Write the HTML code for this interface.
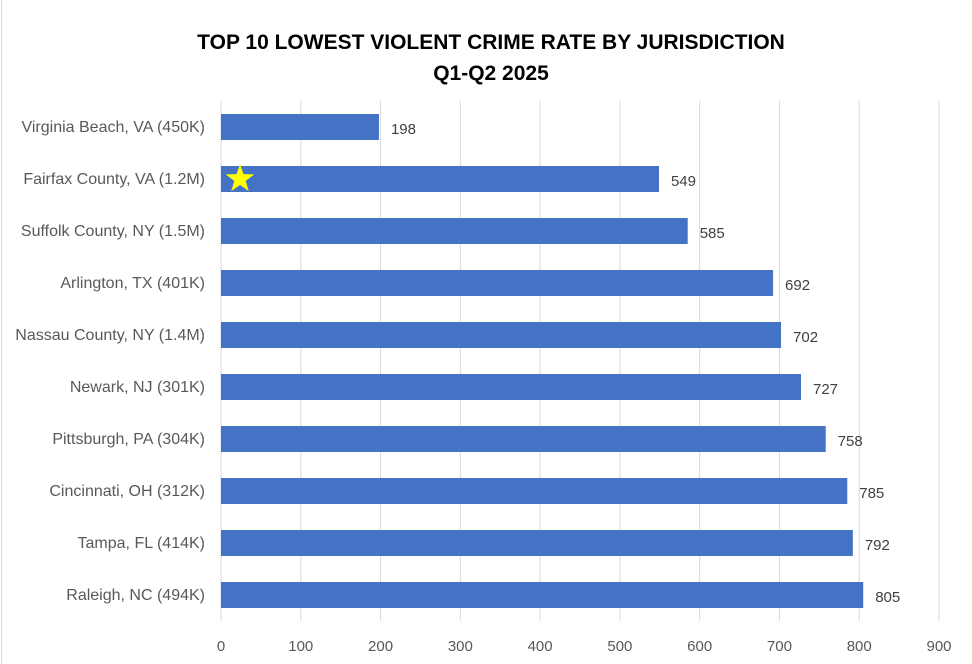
<!DOCTYPE html>
<html><head><meta charset="utf-8"><style>
html,body{margin:0;background:#fff;overflow:hidden;width:972px;height:664px}
svg{display:block;font-family:"Liberation Sans",sans-serif;overflow:hidden}
</style></head><body>
<svg id="chart" width="972" height="664">
<rect x="1.5" y="-2" width="980" height="680" fill="#fff" stroke="#d9d9d9"/>
<text x="491" y="49" text-anchor="middle" font-size="21" font-weight="bold" fill="#000">TOP 10 LOWEST VIOLENT CRIME RATE BY JURISDICTION</text>
<text x="491" y="80" text-anchor="middle" font-size="21" font-weight="bold" fill="#000">Q1-Q2 2025</text>
<g id="grid"></g><g id="bars"></g><g id="labels"></g>
</svg>
<script>
const categories=["Virginia Beach, VA (450K)","Fairfax County, VA (1.2M)","Suffolk County, NY (1.5M)","Arlington, TX (401K)","Nassau County, NY (1.4M)","Newark, NJ (301K)","Pittsburgh, PA (304K)","Cincinnati, OH (312K)","Tampa, FL (414K)","Raleigh, NC (494K)"];
const values=[198,549,585,692,702,727,758,785,792,805];
const ticks=[0,100,200,300,400,500,600,700,800,900];
const NS="http://www.w3.org/2000/svg";
const x0=221,x1=939,plotTop=101,rowH=52,barH=26;
const xs=v=>x0+v/900*(x1-x0);
const yc=i=>plotTop+rowH*i+rowH/2;
function mk(t,a,p,txt){const e=document.createElementNS(NS,t);for(const k in a)e.setAttribute(k,a[k]);if(txt!=null)e.textContent=txt;document.getElementById(p).appendChild(e);return e;}
ticks.forEach(t=>{
 const l=mk('line',{x1:xs(t),x2:xs(t),y1:plotTop,y2:plotTop+rowH*categories.length,stroke:'#d9d9d9','stroke-width':1},'grid');
 
 
 const tx=mk('text',{x:xs(t),y:651,'text-anchor':'middle','font-size':15,fill:'#595959'},'labels',t);
 
 
});
categories.forEach((c,i)=>{
 const r=mk('rect',{x:x0,y:yc(i)-barH/2,width:xs(values[i])-x0,height:barH,fill:'#4472c4'},'bars');
 
 
 const cl=mk('text',{x:205,y:yc(i)+5,'text-anchor':'end','font-size':16,fill:'#595959'},'labels',c);
 
 
 const vl=mk('text',{x:xs(values[i])+12,y:yc(i)+7,'font-size':15,fill:'#404040'},'labels',values[i]);
 
 
});
const cx=240,cy=yc(1),R=15,r2=6;let pts=[];
for(let k=0;k<10;k++){const rr=k%2?r2:R;const a=-Math.PI/2+k*Math.PI/5;pts.push((cx+rr*Math.cos(a)).toFixed(1)+','+(cy+rr*Math.sin(a)).toFixed(1));}
const st=mk('polygon',{points:pts.join(' '),fill:'#ffff00'},'bars');


</script>
</body></html>
